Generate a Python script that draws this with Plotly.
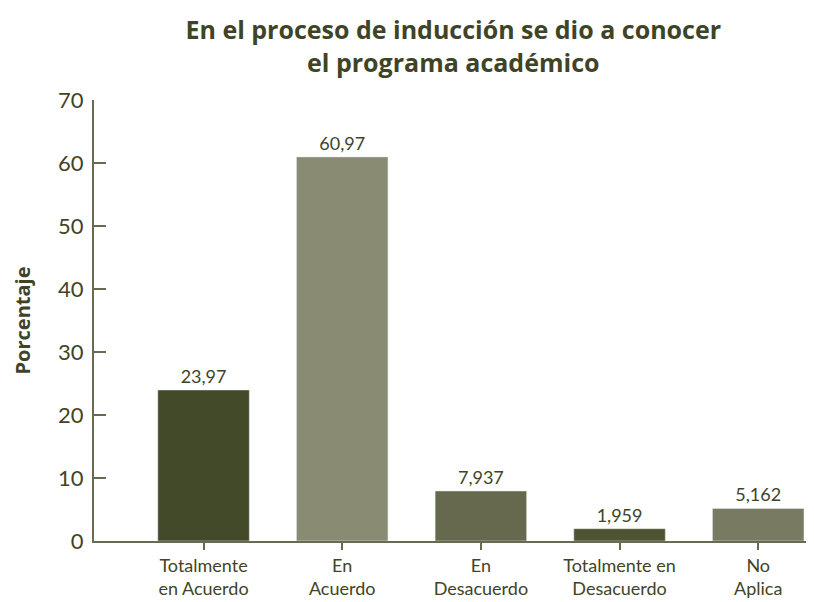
import plotly.graph_objects as go

categories = ['Totalmente<br>en Acuerdo', 'En<br>Acuerdo', 'En<br>Desacuerdo',
              'Totalmente en<br>Desacuerdo', 'No<br>Aplica']
values = [23.97, 60.97, 7.937, 1.959, 5.162]
value_labels = ['23,97', '60,97', '7,937', '1,959', '5,162']
bar_colors = ['#434a29', '#8a8b73', '#66694d', '#4e5431', '#797a62']
y_ticks = [0, 10, 20, 30, 40, 50, 60, 70]

text_color = '#3f4427'
axis_color = '#686a52'
body_font = 'Lato, sans-serif'
bold_font = 'Open Sans, sans-serif'

fig = go.Figure()
fig.add_trace(
    go.Bar(
        x=categories,
        y=values,
        text=value_labels,
        textposition='outside',
        textfont=dict(size=18, color=text_color, family=body_font),
        marker_color=bar_colors,
        width=0.66,
        cliponaxis=False,
        showlegend=False,
    )
)

fig.update_layout(
    width=814,
    height=602,
    paper_bgcolor='white',
    plot_bgcolor='white',
    margin=dict(t=92, b=69, l=86, r=0),
    font=dict(family=body_font, color=text_color),
    title=dict(
        text='<b>En el proceso de inducción se dio a conocer<br>el programa académico</b>',
        x=0.547,
        xanchor='center',
        y=0.948,
        yanchor='middle',
        font=dict(size=25, color=text_color, family=bold_font),
    ),
    xaxis=dict(
        type='category',
        range=[-0.79, 4.46],
        showline=True,
        linecolor=axis_color,
        linewidth=2,
        ticks='outside',
        ticklen=7,
        tickwidth=2,
        tickcolor=axis_color,
        tickfont=dict(size=18, color=text_color),
        showgrid=False,
    ),
    yaxis=dict(
        range=[0, 70],
        tickvals=y_ticks,
        showline=True,
        linecolor=axis_color,
        linewidth=2,
        ticks='inside',
        ticklen=12,
        tickwidth=2,
        tickcolor=axis_color,
        tickfont=dict(size=22, color=text_color),
        ticklabelstandoff=4,
        showgrid=False,
        zeroline=False,
        title=dict(text='<b>Porcentaje</b>', font=dict(size=20, color=text_color, family=bold_font),
                   standoff=22),
    ),
)

fig.write_html('out.html')
